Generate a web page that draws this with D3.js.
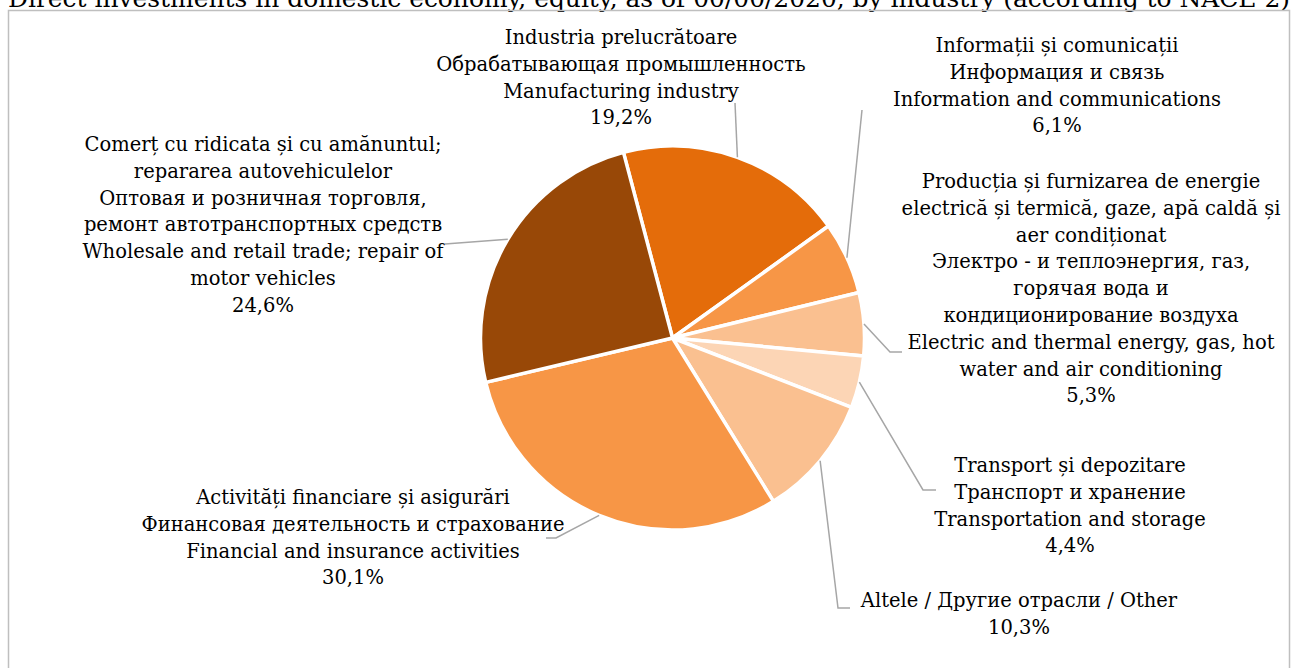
<!DOCTYPE html>
<html>
<head>
<meta charset="utf-8">
<script src="https://cdn.jsdelivr.net/npm/d3@7"></script>
<style>
  body { margin: 0; background: #fff; }
  svg { display: block; }
  text { font-family: "DejaVu Serif", "Liberation Serif", serif; fill: #000; }
</style>
</head>
<body>
<svg></svg>
<script>
var width = 1296;
var height = 668;

// data, in chart order (clockwise from the top)
var categories = ["manufacturing", "info", "energy", "transport", "other", "financial", "trade"];
var shares = [19.2, 6.1, 5.3, 4.4, 10.3, 30.1, 24.6];
var shareLabels = ["19,2%", "6,1%", "5,3%", "4,4%", "10,3%", "30,1%", "24,6%"];
var names = [
  ["Industria prelucrătoare", "Обрабатывающая промышленность", "Manufacturing industry"],
  ["Informații și comunicații", "Информация и связь", "Information and communications"],
  ["Producția și furnizarea de energie", "electrică și termică, gaze, apă caldă și", "aer condiționat",
   "Электро - и теплоэнергия, газ,", "горячая вода и", "кондиционирование воздуха",
   "Electric and thermal energy, gas, hot", "water and air conditioning"],
  ["Transport și depozitare", "Транспорт  и хранение", "Transportation and storage"],
  ["Altele / Другие отрасли / Other"],
  ["Activități financiare și asigurări", "Финансовая деятельность и страхование", "Financial and insurance activities"],
  ["Comerț cu ridicata și cu amănuntul;", "repararea autovehiculelor", "Оптовая и розничная торговля,",
   "ремонт автотранспортных средств", "Wholesale and retail trade; repair of", "motor vehicles"]
];
var colors = ["#E46C0A", "#F79646", "#FAC090", "#FCD5B5", "#FAC090", "#F79646", "#984807"];

// label placement (layout only)
var labelPos = {
  manufacturing: {x: 621, y: 44, lead: [735, 103]},
  info:          {x: 1057, y: 52, lead: [862, 110]},
  energy:        {x: 1091, y: 188, lead: [890, 352], tail: [902, 352]},
  transport:     {x: 1070, y: 472, lead: [923, 490], tail: [936, 490]},
  other:         {x: 1019, y: 607, lead: [838, 608], tail: [850, 608]},
  financial:     {x: 353, y: 504, lead: [556, 538], tail: [546, 538]},
  trade:         {x: 263, y: 151, lead: [445, 244]}
};

var svg = d3.select('svg')
    .attr('width', width)
    .attr('height', height);

// title, cut at the top edge like the original
svg.append('text')
    .attr('x', 8)
    .attr('y', 7)
    .attr('textLength', 1282)
    .attr('lengthAdjust', 'spacingAndGlyphs')
    .style('font-size', '25px')
    .text('Direct investments in domestic economy, equity, as of 00/00/2020, by industry (according to NACE 2)');

svg.append('rect')
    .attr('x', 8.5).attr('y', 10.5)
    .attr('width', 1281).attr('height', 700)
    .attr('fill', 'none')
    .attr('stroke', '#BFBFBF')
    .attr('stroke-width', 1.5);

var cx = 672.5, cy = 338, r = 192;

var pie = d3.pie()
    .sort(null)
    .value(function(d) { return d; })
    .startAngle(-14.8 * Math.PI / 180)
    .endAngle((360 - 14.8) * Math.PI / 180);

var arcs = pie(shares);

var arc = d3.arc().innerRadius(0).outerRadius(r);
var edge = d3.arc().innerRadius(r).outerRadius(r);

var g = svg.append('g').attr('transform', 'translate(' + cx + ',' + cy + ')');

g.selectAll('path')
    .data(arcs)
    .enter()
    .append('path')
    .attr('d', arc)
    .attr('fill', function(d, i) { return colors[i]; })
    .attr('stroke', '#fff')
    .attr('stroke-width', 3.5)
    .attr('stroke-linejoin', 'round');

// leader lines
arcs.forEach(function(d, i) {
  var p = labelPos[categories[i]];
  var c = edge.centroid(d);
  var pts = [[cx + c[0], cy + c[1]], p.lead];
  if (p.tail) pts.push(p.tail);
  svg.append('path')
      .attr('d', d3.line()(pts))
      .attr('fill', 'none')
      .attr('stroke', '#A6A6A6')
      .attr('stroke-width', 1.5);
});

// labels
var lineH = 26.8;
categories.forEach(function(k, i) {
  var p = labelPos[k];
  var t = svg.append('text')
      .attr('text-anchor', 'middle')
      .style('font-size', '19.5px');
  names[i].concat([shareLabels[i]]).forEach(function(s, j) {
    t.append('tspan')
        .attr('x', p.x)
        .attr('y', p.y + j * lineH)
        .text(s);
  });
});
</script>
</body>
</html>
